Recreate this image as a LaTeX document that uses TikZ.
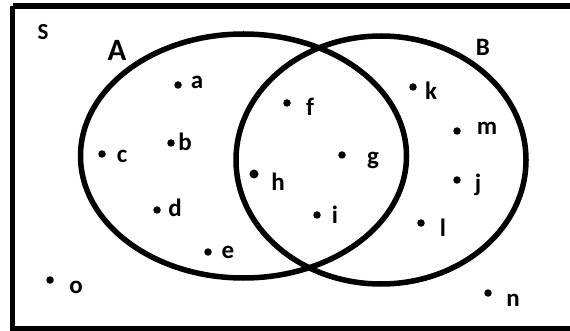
\documentclass[tikz,border=0pt]{standalone}
\usepackage{fontspec}
\setmainfont{Carlito}
\usepackage{tikz}

\begin{document}
\begin{tikzpicture}[x=1pt, y=-1pt,
        % Define a style for the points and their letters
        point/.style={fill=black, circle, minimum size=7.5pt, inner sep=0pt},
        elem/.style={font=\fontsize{25}{28}\selectfont\bfseries, inner sep=0pt},
        setname/.style={font=\fontsize{25}{28}\selectfont\bfseries, inner sep=0pt},
        border/.style={line width=5.5pt}]

        \useasboundingbox (0,0) rectangle (570,331);

        % 1. The universal set
        \draw[border] (12.5,6) -- (580,6) (12.5,6) -- (12.5,329) -- (580,329);
        \node[setname, font=\fontsize{23}{26}\selectfont\bfseries] (S) at (43,32) {S};

        % 2. The two sets A and B
        \draw[border] (243.5,156) ellipse [x radius=163, y radius=122];
        \draw[border] (381,160) ellipse [x radius=145, y radius=124];
        \node[setname, font=\fontsize{31}{34}\selectfont\bfseries] (A) at (117,50) {A};
        \node[setname] (B) at (483,47) {B};

        % 3. Mark the points and label them
        \node[point] (pa) at (178,85) {};  \node[elem] (la) at (197,82) {a};
        \node[point] (pb) at (171,143) {}; \node[elem] (lb) at (185,142) {b};
        \node[point] (pc) at (102,154) {}; \node[elem] (lc) at (122,156) {c};
        \node[point] (pd) at (157,210) {}; \node[elem] (ld) at (175,208) {d};
        \node[point] (pe) at (208,252) {}; \node[elem] (le) at (228,252) {e};
        \node[point] (pf) at (287,103) {}; \node[elem] (lf) at (310,107) {f};
        \node[point] (pg) at (342,155) {}; \node[elem] (lg) at (373,160) {g};
        \node[point, minimum size=9pt] (ph) at (254,174) {}; \node[elem] (lh) at (278,182) {h};
        \node[point] (pi) at (317,215) {}; \node[elem] (li) at (335,215) {i};
        \node[point] (pj) at (457,180) {}; \node[elem] (lj) at (478,185) {j};
        \node[point] (pk) at (413,87) {};  \node[elem] (lk) at (431,91) {k};
        \node[point] (pl) at (421,223) {}; \node[elem] (ll) at (443,228) {l};
        \node[point] (pm) at (457,131) {}; \node[elem] (lm) at (487,128) {m};
        \node[point] (pn) at (488,293) {}; \node[elem] (ln) at (513,300) {n};
        \node[point] (po) at (50,280) {};  \node[elem] (lo) at (76,287) {o};
    \end{tikzpicture}
\end{document}
